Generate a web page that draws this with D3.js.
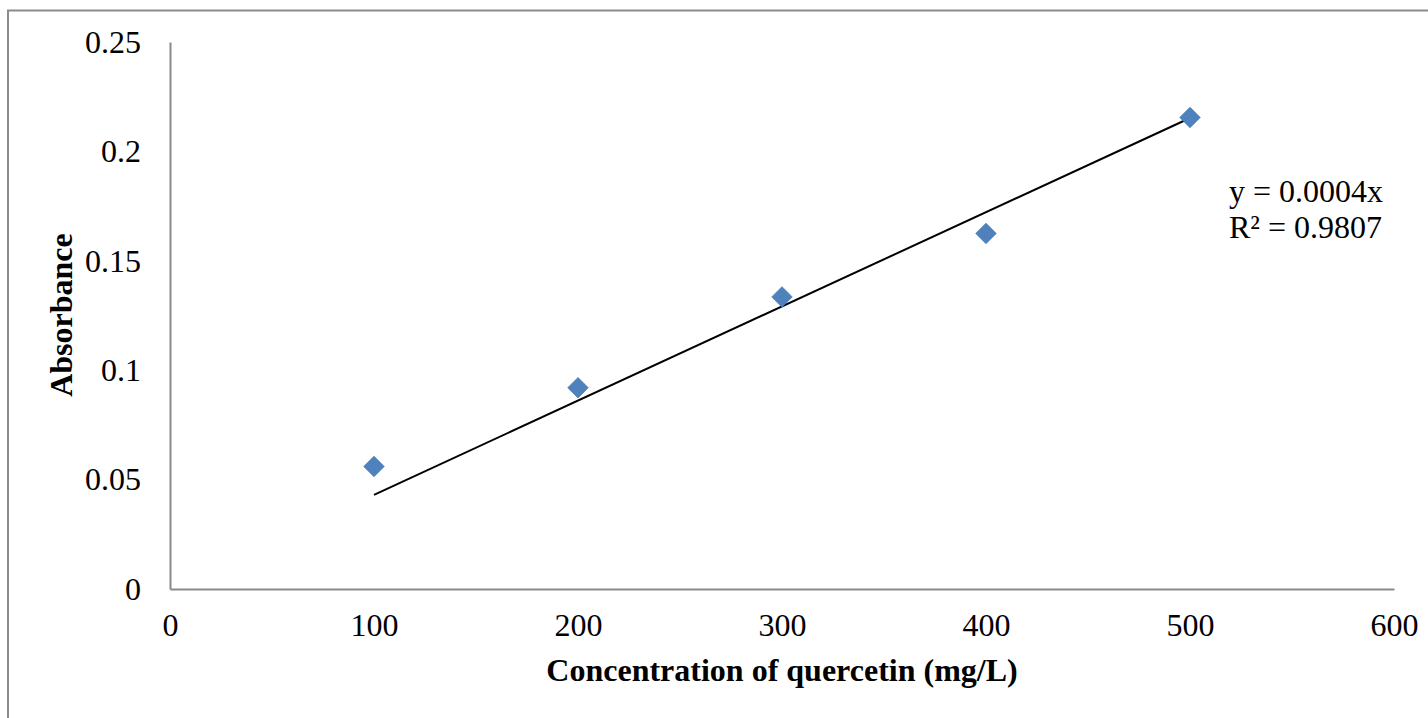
<!DOCTYPE html>
<html>
<head>
<meta charset="utf-8">
<script src="https://cdn.jsdelivr.net/npm/d3@7"></script>
<style>
  html, body { margin: 0; padding: 0; background: #fff; }
  svg { display: block; }
</style>
</head>
<body>
<svg id="chart" width="1428" height="718"></svg>
<script>
// ---- data ----
const concentrations = [100, 200, 300, 400, 500];
const absorbance = [0.056, 0.092, 0.1335, 0.1625, 0.2155];
const xTicks = [0, 100, 200, 300, 400, 500, 600];
const yTicks = [0, 0.05, 0.1, 0.15, 0.2, 0.25];
const yTickLabels = ["0", "0.05", "0.1", "0.15", "0.2", "0.25"];
const equationLines = ["y = 0.0004x", "R\u00B2 = 0.9807"];
const xTitle = "Concentration of quercetin (mg/L)";
const yTitle = "Absorbance";

const W = 1428, H = 718;
const margin = { left: 170, right: 34, top: 42, bottom: 129 };
const svg = d3.select("#chart");
const font = "'Liberation Serif', 'Times New Roman', serif";
const fs = 32;
const axisColor = "#898989";

// outer frame (top + left edges visible)
svg.append("path")
  .attr("d", `M8,${H + 2} L8,10.5 L${W + 2},10.5`)
  .attr("fill", "none")
  .attr("stroke", "#8c8c8c")
  .attr("stroke-width", 2);

const x = d3.scaleLinear().domain([0, 600]).range([margin.left, W - margin.right]);
const y = d3.scaleLinear().domain([0, 0.25]).range([H - margin.bottom, margin.top]);

// axes
const xAxis = svg.append("g")
  .attr("transform", `translate(0,${y(0)})`)
  .call(d3.axisBottom(x).tickValues(xTicks).tickSize(0).tickPadding(24).tickFormat(d3.format("d")));
const yAxis = svg.append("g")
  .attr("transform", `translate(${x(0)},0)`)
  .call(d3.axisLeft(y).tickValues(yTicks).tickSize(0).tickPadding(29)
        .tickFormat((d, i) => yTickLabels[i]));

[xAxis, yAxis].forEach(g => {
  g.select(".domain").attr("stroke", axisColor).attr("stroke-width", 2);
  g.selectAll("text").attr("font-family", font).attr("font-size", fs).attr("fill", "#000");
});

// trendline (least squares through origin)
const slope = d3.sum(concentrations, (c, i) => c * absorbance[i]) / d3.sum(concentrations, c => c * c);
const xMin = d3.min(concentrations), xMax = d3.max(concentrations);
svg.append("line")
  .attr("x1", x(xMin)).attr("y1", y(slope * xMin))
  .attr("x2", x(xMax)).attr("y2", y(slope * xMax))
  .attr("stroke", "#000").attr("stroke-width", 2);

// markers (diamonds)
const diamond = d3.symbol().type(d3.symbolSquare).size(210);
svg.append("g").selectAll("path")
  .data(concentrations.map((c, i) => [c, absorbance[i]]))
  .join("path")
  .attr("d", diamond)
  .attr("transform", d => `translate(${x(d[0])},${y(d[1])}) rotate(45)`)
  .attr("fill", "#4f81bd")
  .attr("stroke", "#4a7ebb")
  .attr("stroke-width", 0.75);

// equation label
const eq = svg.append("text")
  .attr("font-family", font).attr("font-size", fs).attr("fill", "#000");
equationLines.forEach((t, i) => {
  eq.append("tspan").attr("x", 1229).attr("y", 202 + i * 36).text(t);
});

// axis titles
svg.append("text")
  .attr("x", (x(0) + x(600)) / 2)
  .attr("y", 681)
  .attr("text-anchor", "middle")
  .attr("font-family", font).attr("font-size", fs).attr("font-weight", "bold")
  .text(xTitle);

svg.append("text")
  .attr("transform", `translate(72,${315}) rotate(-90)`)
  .attr("text-anchor", "middle")
  .attr("font-family", font).attr("font-size", fs).attr("font-weight", "bold")
  .text(yTitle);
</script>
</body>
</html>
